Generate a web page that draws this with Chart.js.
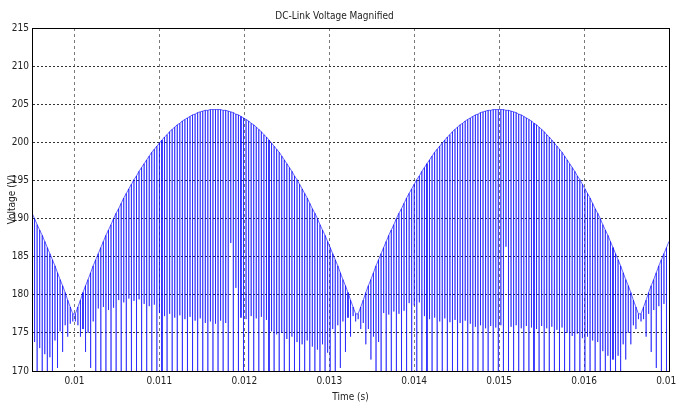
<!DOCTYPE html>
<html>
<head>
<meta charset="utf-8">
<title>DC-Link Voltage Magnified</title>
<script src="https://cdn.jsdelivr.net/npm/chart.js@4.4.0/dist/chart.umd.min.js"></script>
<style>
  body { margin: 0; background: #fff; }
  #grafico { display: block; }
</style>
</head>
<body>
<canvas id="grafico" width="676" height="405"></canvas>
<script>
// Tension del bus DC (V): cresta y valle de cada ciclo de conmutacion
const inicioTiempo = 0.0095   // s, borde izquierdo
const pasoCiclo = 0.00003     // s entre picos
const anchoPico = 0.0000004   // s, la caida y la subida son casi verticales

// crestas (envolvente superior)
const crestaIzq = [190.7, 190.0, 189.2, 188.5, 187.8, 187.0, 186.2, 185.4, 184.6, 183.8, 182.9, 182.0, 181.2, 180.3, 179.3, 178.4, 177.5]

const crestaPico1 = [177.5, 178.4, 179.3, 180.3, 181.2, 182.0, 182.9, 183.8, 184.6, 185.4, 186.2, 187.0, 187.8, 188.5, 189.2, 190.0, 190.7, 191.3, 192.0, 192.7,
    193.3, 193.9, 194.5, 195.1, 195.6, 196.2, 196.7, 197.2, 197.7, 198.2, 198.7, 199.1, 199.5, 199.9, 200.3, 200.7, 201.0, 201.4, 201.7, 202.0,
    202.3, 202.5, 202.8, 203.0, 203.2, 203.4, 203.6, 203.7, 203.9, 204.0, 204.1, 204.2, 204.2, 204.3, 204.3, 204.3,
    204.3, 204.3, 204.2, 204.2, 204.1, 204.0, 203.9, 203.7, 203.6, 203.4, 203.2, 203.0, 202.8, 202.5, 202.3, 202.0, 201.7, 201.4, 201.0, 200.7,
    200.3, 199.9, 199.5, 199.1, 198.7, 198.2, 197.7, 197.2, 196.7, 196.2, 195.6, 195.1, 194.5, 193.9, 193.3, 192.7, 192.0, 191.3, 190.7, 190.0,
    189.2, 188.5, 187.8, 187.0, 186.2, 185.4, 184.6, 183.8, 182.9, 182.0, 181.2, 180.3, 179.3, 178.4, 177.5]

const crestaPico2 = [177.5, 178.4, 179.3, 180.3, 181.2, 182.0, 182.9, 183.8, 184.6, 185.4, 186.2, 187.0, 187.8, 188.5, 189.2, 190.0, 190.7, 191.3, 192.0, 192.7,
    193.3, 193.9, 194.5, 195.1, 195.6, 196.2, 196.7, 197.2, 197.7, 198.2, 198.7, 199.1, 199.5, 199.9, 200.3, 200.7, 201.0, 201.4, 201.7, 202.0,
    202.3, 202.5, 202.8, 203.0, 203.2, 203.4, 203.6, 203.7, 203.9, 204.0, 204.1, 204.2, 204.2, 204.3, 204.3, 204.3,
    204.3, 204.3, 204.2, 204.2, 204.1, 204.0, 203.9, 203.7, 203.6, 203.4, 203.2, 203.0, 202.8, 202.5, 202.3, 202.0, 201.7, 201.4, 201.0, 200.7,
    200.3, 199.9, 199.5, 199.1, 198.7, 198.2, 197.7, 197.2, 196.7, 196.2, 195.6, 195.1, 194.5, 193.9, 193.3, 192.7, 192.0, 191.3, 190.7, 190.0,
    189.2, 188.5, 187.8, 187.0, 186.2, 185.4, 184.6, 183.8, 182.9, 182.0, 181.2, 180.3, 179.3, 178.4, 177.5]

const crestaDer = [177.5, 178.4, 179.3, 180.3, 181.2, 182.0, 182.9, 183.8, 184.6, 185.4, 186.2, 187.0]

// valles (fondo de cada pico, bajo 170 queda cortado por el eje)
const valleIzq = [159.0, 173.8, 161.4, 173.0, 163.8, 172.2, 166.0, 171.8, 168.3, 174.0, 170.4, 175.2, 172.5, 176.0, 174.5, 176.2, 176.5]

const valleTramo1 = [176.5, 176.0, 174.5, 175.5, 172.5, 175.0, 170.4, 176.5, 168.3, 178.2, 166.0, 178.4, 163.8, 178.0, 161.4, 178.3, 160.0, 179.3, 159.0, 179.0,
    161.0, 179.5, 160.0, 179.2, 158.5, 179.4, 160.5, 178.8, 159.5, 178.5, 161.0, 178.7, 160.0, 177.6, 159.0, 177.2, 160.5, 177.5, 159.5, 177.0,
    161.0, 177.3, 160.0, 176.8, 158.5, 177.1, 160.5, 176.6, 159.5, 176.9, 161.0, 176.3, 160.0, 176.5, 159.0, 176.2, 160.5, 176.6, 159.5, 176.3,
    161.0, 186.8, 160.0, 180.9, 158.5, 177.0, 160.5, 176.8, 159.5, 177.2, 161.0, 176.9, 160.0, 177.1, 159.0, 176.7, 160.5, 175.2, 159.5, 174.8,
    161.0, 175.0, 160.0, 174.2, 158.5, 174.5, 160.5, 173.8, 159.5, 173.5, 161.0, 174.0, 160.0, 173.2, 161.5, 172.8, 163.0, 173.5, 164.5, 172.4,
    166.0, 175.5, 168.3, 176.0, 170.4, 176.5, 172.5, 177.0, 174.5, 177.2, 176.5]

const valleTramo2 = [176.8, 175.5, 176.3, 173.5, 175.5, 171.5, 174.5, 169.3, 173.8, 167.2, 177.6, 164.9, 177.4, 162.6, 177.8, 160.0, 177.5, 159.0, 177.9, 160.5,
    178.9, 159.5, 178.6, 161.0, 179.0, 160.0, 177.2, 158.5, 176.8, 160.5, 177.0, 159.5, 176.5, 161.0, 176.9, 160.0, 176.4, 159.0, 176.7, 160.5,
    176.3, 159.5, 176.6, 161.0, 176.2, 160.0, 175.8, 158.5, 176.0, 160.5, 175.6, 159.5, 175.9, 161.0, 175.7, 160.0, 176.0, 159.0, 186.3, 160.5,
    175.8, 159.5, 176.0, 161.0, 175.6, 160.0, 175.9, 158.5, 175.7, 160.5, 175.5, 159.5, 175.9, 161.0, 175.6, 160.0, 175.8, 159.0, 175.4, 160.5,
    175.7, 159.5, 175.0, 161.0, 174.6, 160.0, 174.9, 158.5, 174.3, 160.5, 174.5, 159.5, 174.0, 161.0, 173.8, 160.0, 172.6, 161.5, 172.0, 163.0,
    171.5, 167.2, 172.0, 169.3, 173.5, 171.5, 175.0, 173.5, 176.0, 175.5, 176.8]

const valleDer = [176.5, 176.8, 174.5, 177.5, 172.5, 178.0, 170.4, 178.5, 168.3, 178.8, 166.1, 179.0]

// ejes
const ticksTiempo = [0.01, 0.011, 0.012, 0.013, 0.014, 0.015, 0.016, 0.017]
const etiquetasTiempo = ['0.01', '0.011', '0.012', '0.013', '0.014', '0.015', '0.016', '0.017']
const ticksTension = [170, 175, 180, 185, 190, 195, 200, 205, 210, 215]

const fuente = "'Liberation Sans Narrow', 'DejaVu Sans Condensed', 'Liberation Sans', Arial, sans-serif"

const crestas = [...crestaIzq, ...crestaPico1, ...crestaPico2, ...crestaDer]
const valles = [...valleIzq, ...valleTramo1, ...valleTramo2, ...valleDer]

// cada ciclo: cresta -> valle -> cresta, luego sigue la envolvente
const puntos = []
crestas.forEach((cresta, i) => {
    const t = inicioTiempo + i * pasoCiclo
    puntos.push({ x: t, y: cresta })
    puntos.push({ x: t + anchoPico, y: valles[i] })
    puntos.push({ x: t + 2 * anchoPico, y: cresta })
})

// marco negro alrededor del area (estilo matlab)
const marco = {
    id: 'marco',
    afterDatasetsDraw(chart) {
        const { ctx, chartArea } = chart
        const izq = Math.round(chartArea.left)
        const der = Math.round(chartArea.right)
        const arriba = Math.round(chartArea.top)
        const abajo = Math.round(chartArea.bottom)
        ctx.save()
        ctx.strokeStyle = '#000'
        ctx.lineWidth = 1
        ctx.strokeRect(izq + 0.5, arriba + 0.5, der - izq, abajo - arriba)
        ctx.restore()
    }
}

const ctx = document.getElementById('grafico')

const grafico = new Chart(ctx, {
    type: 'line',
    data: {
        datasets: [{
            label: 'Voltage',
            data: puntos,
            borderColor: 'rgba(0, 0, 255, 0.6)',
            borderWidth: 1,
            pointRadius: 0,
            tension: 0,
            fill: false,
            clip: 0
        }]
    },
    options: {
        responsive: false,
        animation: false,
        parsing: false,
        normalized: true,
        events: [],
        layout: { padding: { left: 0, right: 7, top: 0, bottom: 0 } },
        plugins: {
            legend: { display: false },
            tooltip: { enabled: false },
            title: {
                display: true,
                text: 'DC-Link Voltage Magnified',
                color: '#222',
                font: { family: fuente, size: 10, weight: 'normal' },
                padding: { top: 10, bottom: 6 }
            }
        },
        scales: {
            x: {
                type: 'linear',
                min: 0.0095,
                max: 0.017,
                afterBuildTicks: (eje) => { eje.ticks = ticksTiempo.map(v => ({ value: v })) },
                afterFit: (eje) => {
                    eje.height = 34
                    eje.paddingLeft = 0
                    eje.paddingRight = 0
                },
                ticks: {
                    autoSkip: false,
                    maxRotation: 0,
                    padding: 4,
                    color: '#222',
                    font: { family: fuente, size: 10 },
                    callback: (valor, indice) => etiquetasTiempo[indice]
                },
                grid: { color: '#7a7a7a', lineWidth: 1, drawTicks: false },
                border: { display: true, color: '#000', dash: [3, 3] },
                title: {
                    display: true,
                    text: 'Time (s)',
                    color: '#222',
                    font: { family: fuente, size: 10 },
                    padding: { top: 0, bottom: 1.5 }
                }
            },
            y: {
                min: 170,
                max: 215,
                afterBuildTicks: (eje) => { eje.ticks = ticksTension.map(v => ({ value: v })) },
                afterFit: (eje) => {
                    eje.width = 32
                    eje.paddingTop = 0
                    eje.paddingBottom = 0
                },
                ticks: {
                    autoSkip: false,
                    padding: 3,
                    color: '#222',
                    font: { family: fuente, size: 10 }
                },
                grid: { color: '#333', lineWidth: 1, drawTicks: false },
                border: { display: true, color: '#000', dash: [2, 2] },
                title: {
                    display: true,
                    text: 'Voltage (V)',
                    color: '#222',
                    font: { family: fuente, size: 10 },
                    padding: { top: 6, bottom: 0 }
                }
            }
        }
    },
    plugins: [marco]
})
</script>
</body>
</html>
